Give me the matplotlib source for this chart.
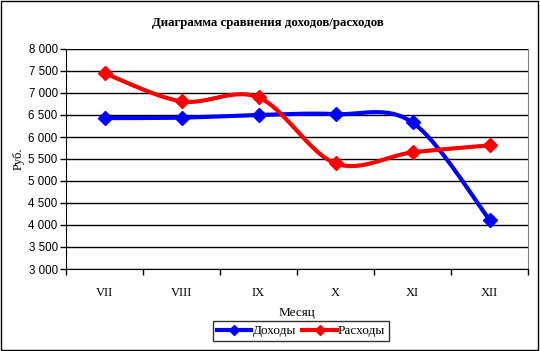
import numpy as np
import matplotlib
matplotlib.use("Agg")
import matplotlib.pyplot as plt
from matplotlib.patches import Rectangle

months = ["VII", "VIII", "IX", "X", "XI", "XII"]
income = [6430, 6440, 6500, 6520, 6330, 4120]
expenses = [7450, 6810, 6900, 5400, 5650, 5810]
yticks = [3000, 3500, 4000, 4500, 5000, 5500, 6000, 6500, 7000, 7500, 8000]
ytick_labels = ["3 000", "3 500", "4 000", "4 500", "5 000", "5 500",
                "6 000", "6 500", "7 000", "7 500", "8 000"]

SERIF = "Liberation Serif"
SANS = "Liberation Sans"


def smooth(x, y, n=30):
    # Catmull-Rom style Bezier smoothing, like Excel's "smoothed line"
    x = np.asarray(x, float)
    y = np.asarray(y, float)
    px = np.concatenate([[x[0]], x, [x[-1]]])
    py = np.concatenate([[y[0]], y, [y[-1]]])
    t = np.linspace(0, 1, n)[:, None]
    xs, ys = [], []
    for i in range(1, len(px) - 2):
        p0 = np.array([px[i], py[i]])
        p3 = np.array([px[i + 1], py[i + 1]])
        c1 = p0 + (np.array([px[i + 1], py[i + 1]]) - np.array([px[i - 1], py[i - 1]])) / 6
        c2 = p3 - (np.array([px[i + 2], py[i + 2]]) - np.array([px[i], py[i]])) / 6
        pts = ((1 - t) ** 3) * p0 + 3 * ((1 - t) ** 2) * t * c1 + 3 * (1 - t) * t ** 2 * c2 + t ** 3 * p3
        xs.append(pts[:, 0])
        ys.append(pts[:, 1])
    return np.concatenate(xs), np.concatenate(ys)


fig = plt.figure(figsize=(5.4, 3.51), dpi=100)
fig.patches.append(Rectangle((0.002, 0.003), 0.995, 0.994, transform=fig.transFigure,
                             fill=False, edgecolor="black", linewidth=1.0))
ax = fig.add_axes([66 / 540, 1 - 269 / 351, 462 / 540, 220 / 351])

x = np.arange(len(months))
# smoothing is done in screen-like proportions (x: 77 px per category, y: 22 px per 500)
yscale = (220 / 5000) / 77.0
for vals, color, label in [(income, "#0000ff", "Доходы"), (expenses, "#ff0000", "Расходы")]:
    sx, sy = smooth(x, np.array(vals) * yscale)
    ax.plot(sx, sy / yscale, color=color, linewidth=3.0, solid_capstyle="round", zorder=3)
    ax.plot(x, vals, linestyle="none", marker="D", markersize=7.5, color=color, zorder=4)
    ax.plot([], [], color=color, linewidth=3.0, marker="D", markersize=5, label=label)

ax.set_xlim(-0.5, len(months) - 0.5)
ax.set_ylim(3000, 8000)
ax.set_yticks(yticks)
ax.set_yticklabels(ytick_labels, fontsize=8.3, family=SANS)
ax.set_xticks(np.arange(-0.5, len(months), 1.0))
ax.set_xticklabels([])
ax.set_xticks(x, minor=True)
ax.set_xticklabels(months, minor=True, fontsize=9, family=SERIF)
ax.tick_params(axis="x", which="major", direction="out", length=4, width=1)
ax.tick_params(axis="x", which="minor", length=0, pad=13)
ax.tick_params(axis="y", direction="out", length=4, width=1, pad=2)
ax.grid(axis="y", color="black", linewidth=1)
ax.set_axisbelow(True)
ax.spines["top"].set_visible(False)
ax.spines["right"].set_color("#808080")

ax.set_xlabel("Месяц", fontsize=9.5, family=SERIF, labelpad=6)
ax.set_ylabel("Руб.", fontsize=9, family=SERIF, labelpad=3)
fig.text(268 / 540, 1 - 23 / 351, "Диаграмма сравнения доходов/расходов",
         ha="center", va="center", fontsize=9.3, fontweight="bold", family=SERIF)

leg = fig.legend(loc="center", bbox_to_anchor=(301 / 540, 1 - 331 / 351), ncol=2,
                 prop={"family": SERIF, "size": 9.5}, frameon=True, fancybox=False,
                 edgecolor="black", handlelength=2.6, handletextpad=0.1,
                 columnspacing=0.5, borderpad=0.3)
leg.get_frame().set_linewidth(1.0)

fig.savefig("out.png", dpi=100)
